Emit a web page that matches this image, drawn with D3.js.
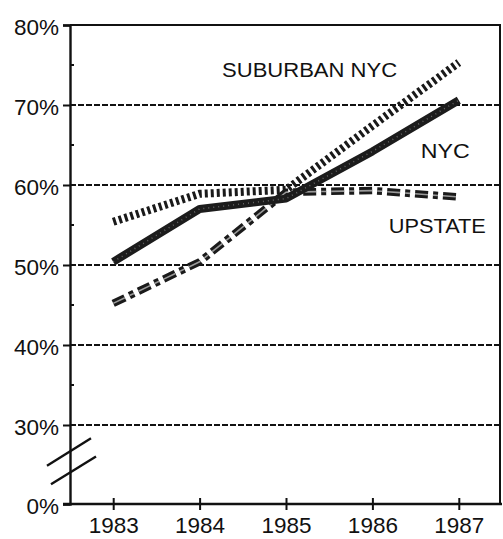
<!DOCTYPE html>
<html>
<head>
<meta charset="utf-8">
<script src="https://cdn.jsdelivr.net/npm/d3@7"></script>
<style>
  body { margin: 0; background: #fff; }
  text { font-family: "Liberation Sans", Arial, sans-serif; fill: #111; }
</style>
</head>
<body>
<div id="chart"></div>
<script>
// data
const years = [1983, 1984, 1985, 1986, 1987];
const nyc = [50.4, 57.0, 58.3, 64.2, 70.6];
const suburban = [55.4, 58.9, 59.4, 67.4, 75.3];
const upstate = [45.2, 50.4, 59.1, 59.3, 58.5];
const yTicks = [0, 30, 40, 50, 60, 70, 80];
const yMinor = [35, 45, 55, 65, 75];
const gridVals = [30, 40, 50, 60, 70];

const margin = {top: 25, right: 1, bottom: 35, left: 70},
    svg_width = 503,
    svg_height = 539,
    width = svg_width - margin.left - margin.right,
    height = svg_height - margin.top - margin.bottom;

const svg = d3.select("#chart")
    .append("svg")
    .attr("width", svg_width)
    .attr("height", svg_height)
    .append("g")
    .attr("transform", "translate(" + margin.left + "," + margin.top + ")");

const x = d3.scaleLinear().domain([1982.5, 1987.5]).range([0, 432]);
// broken axis: 0-30 squeezed into the bottom strip
const y = d3.scaleLinear().domain([0, 30, 80]).range([height, 400, 0]);

// grid lines
svg.append("g").selectAll("line")
    .data(gridVals)
    .join("line")
    .attr("x1", 0).attr("x2", 430)
    .attr("y1", d => y(d)).attr("y2", d => y(d))
    .attr("stroke", "#111")
    .attr("stroke-width", 2)
    .attr("stroke-dasharray", "6,2");

// frame top + right
svg.append("path")
    .attr("d", `M0,${y(80)}H430V${y(0)}`)
    .attr("fill", "none")
    .attr("stroke", "#111")
    .attr("stroke-width", 2);

// left axis
const yAxis = d3.axisLeft(y).tickValues(yTicks).tickSize(7).tickFormat(d => d + "%");
const ya = svg.append("g").call(yAxis);
ya.select(".domain").attr("stroke-width", 2.4).attr("stroke", "#111");
ya.selectAll(".tick line").attr("stroke-width", 2).attr("stroke", "#111");
ya.selectAll(".tick text")
    .attr("x", -11)
    .attr("dy", "0.4em")
    .style("font-size", "22.5px");

// minor ticks, inner side
svg.append("g").selectAll("line")
    .data(yMinor)
    .join("line")
    .attr("x1", 0).attr("x2", 4)
    .attr("y1", d => y(d)).attr("y2", d => y(d))
    .attr("stroke", "#111")
    .attr("stroke-width", 2);

// bottom axis
const xa = svg.append("g")
    .attr("transform", `translate(0,${height})`)
    .call(d3.axisBottom(x).tickValues(years).tickFormat(d3.format("d")).tickSize(6));
xa.select(".domain").attr("d", `M-7,0H432`).attr("stroke-width", 2.4).attr("stroke", "#111");
xa.selectAll(".tick line").attr("y1", -6).attr("y2", 6).attr("stroke-width", 2).attr("stroke", "#111");
xa.selectAll(".tick text")
    .attr("y", 13)
    .style("font-size", "22.5px");

// axis break marks
const brk = svg.append("g").attr("stroke", "#111").attr("stroke-width", 2.4);
brk.append("line").attr("x1", -23).attr("y1", y(14.5)).attr("x2", 21).attr("y2", y(25));
brk.append("line").attr("x1", -19).attr("y1", y(7.5)).attr("x2", 26).attr("y2", y(18));

const line = d3.line().x((d, i) => x(years[i])).y(d => y(d));

// suburban NYC - thick square dots
svg.append("path")
    .datum(suburban)
    .attr("d", line)
    .attr("fill", "none")
    .attr("stroke", "#1a1a1a")
    .attr("stroke-width", 8)
    .attr("stroke-dasharray", "3,3");

// upstate - dash dot, hollow looking
svg.append("path")
    .datum(upstate)
    .attr("d", line)
    .attr("fill", "none")
    .attr("stroke", "#1a1a1a")
    .attr("stroke-width", 7.5)
    .attr("stroke-dasharray", "13,5,5,5");
svg.append("path")
    .datum(upstate)
    .attr("d", line)
    .attr("fill", "none")
    .attr("stroke", "#9a9a9a")
    .attr("stroke-width", 1.6)
    .attr("stroke-dasharray", "13,5,5,5");

// NYC - thick solid
svg.append("path")
    .datum(nyc)
    .attr("d", line)
    .attr("fill", "none")
    .attr("stroke", "#1c1c1c")
    .attr("stroke-width", 8)
    .attr("stroke-linejoin", "round");
svg.append("path")
    .datum(nyc)
    .attr("d", line)
    .attr("fill", "none")
    .attr("stroke", "#666")
    .attr("stroke-width", 1.5)
    .attr("stroke-dasharray", "1,4");

// series labels
const labels = [
    {text: "SUBURBAN NYC", year: 1984.26, val: 73.5, len: 175},
    {text: "NYC", year: 1986.56, val: 63.4, len: 49},
    {text: "UPSTATE", year: 1986.19, val: 54.0, len: 97}
];
svg.append("g").selectAll("text")
    .data(labels)
    .join("text")
    .attr("x", d => x(d.year))
    .attr("y", d => y(d.val))
    .attr("textLength", d => d.len)
    .attr("lengthAdjust", "spacingAndGlyphs")
    .style("font-size", "20px")
    .text(d => d.text);
</script>
</body>
</html>
